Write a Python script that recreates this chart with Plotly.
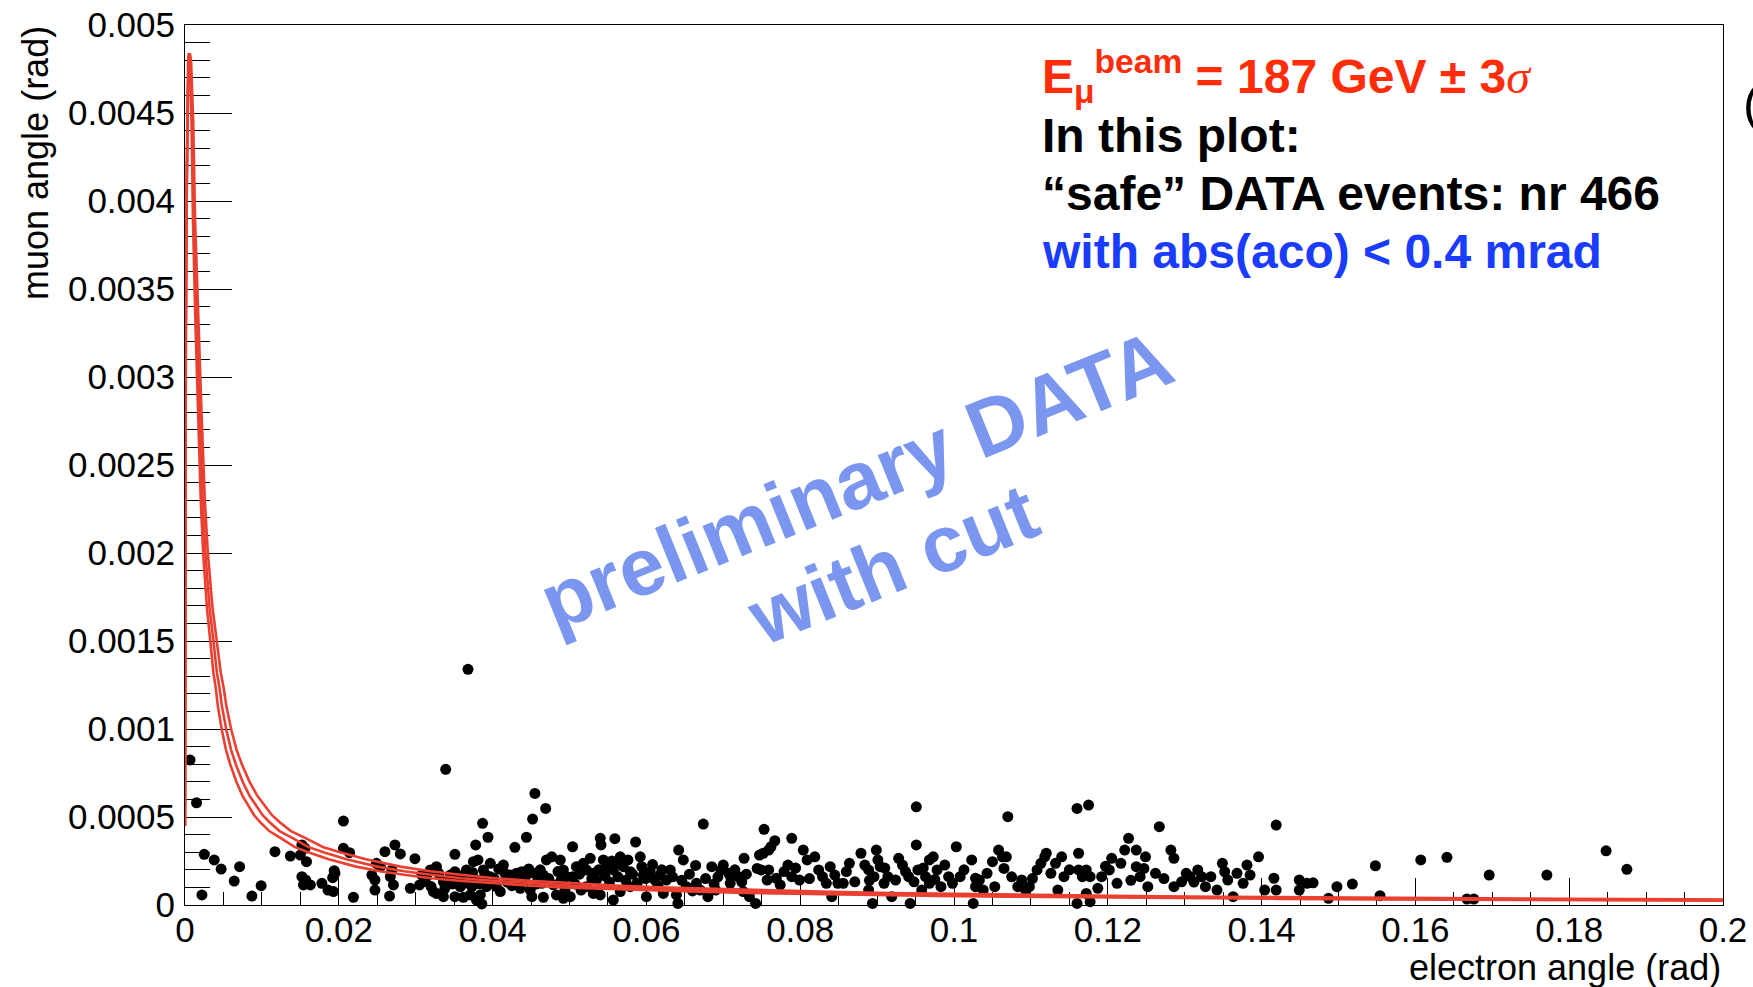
import plotly.graph_objects as go

# ---------------------------------------------------------------- data
# Selected events: electron and muon scattering angles, in mrad
electron_mrad = [
    0.65, 1.5, 2.2, 2.5, 3.8, 4.7, 6.4, 7.1, 8.7, 9.9, 11.7, 13.7, 15.0, 15.2, 15.6, 15.8, 15.2, 15.4, 16.3, 15.7, 17.8, 18.6, 19.4, 19.2, 19.5, 19.3,
    20.6, 20.6, 21.4, 21.9, 24.3, 24.7, 24.7, 24.9, 25.4, 26.0, 26.6, 26.7, 26.9, 27.1, 27.3, 28.0, 29.3, 29.9, 30.5,
    31.4, 31.9, 32.3, 32.7, 32.7, 33.6, 33.6, 33.8, 33.9, 34.5, 35.1, 35.1, 35.1, 35.8, 36.2, 36.2, 36.2, 36.6, 36.8, 37.1, 37.3, 37.5, 37.8, 37.9, 37.9, 38.1, 38.4, 38.6, 38.7, 38.8, 39.2, 39.4, 39.7, 39.7,
    40.5, 41.0, 41.4, 41.6, 42.3, 42.9, 43.1, 43.8, 44.4, 44.4, 44.9, 45.1, 45.2, 45.5, 45.5, 45.9, 46.4, 46.6, 46.6, 46.9, 47.0, 47.7, 48.3, 48.8, 49.2, 49.2, 49.2, 49.4, 49.6,
    50.1, 50.4, 50.9, 51.8, 52.2, 52.2, 52.7, 53.1, 53.1, 53.5, 54.0, 54.1, 54.0, 54.4, 54.8, 55.7, 55.7, 55.9, 56.1, 56.6, 56.6, 57.0, 57.6, 57.9, 57.9, 58.6, 59.2, 59.4, 59.6,
    60.0, 60.5, 61.1, 61.8, 62.2, 62.6, 63.1, 63.9, 64.1, 64.2, 64.8, 65.2, 66.4, 66.5,
    67.0, 67.4, 68.0, 68.5, 69.0, 69.7, 70.0, 70.7, 70.9, 71.0, 72.0, 72.4, 72.6, 72.7, 73.4, 74.2, 74.4, 74.7, 74.9, 75.2, 75.3, 75.7, 75.9, 75.9, 76.2,
    76.7, 76.9, 77.4, 78.4, 78.9, 78.9, 79.9, 80.4, 80.9, 81.9, 82.4, 82.9, 83.4, 83.9, 84.1, 84.9, 85.6, 86.4, 87.1, 87.9, 88.4, 88.9, 88.9, 89.4, 89.6, 89.9,
    90.1, 90.4, 90.9, 91.4, 91.9, 92.4, 92.8, 93.3, 94.1, 94.3, 94.8, 95.1, 95.1, 95.3, 95.8, 96.3, 96.8, 96.8, 97.3, 97.8, 98.3, 98.8, 99.3, 99.8, 100.3, 100.8,
    102.3, 102.5, 102.8, 102.8, 103.3, 103.8, 105.0, 105.3, 105.8, 106.3, 106.5, 106.8, 107.0, 108.3, 108.8, 109.3, 109.8, 110.8, 111.3, 111.8, 112.0, 113.2, 113.5, 114.0, 114.3,
    116.0, 116.0, 116.2, 116.2, 116.7, 117.2, 117.2, 117.5, 117.7, 117.7, 118.7, 119.2, 120.2, 120.5, 121.2, 121.7, 122.2, 122.7, 123.7, 123.7, 124.2, 124.7, 124.9, 125.2, 126.2,
    126.7, 128.2, 128.6, 128.6, 129.6, 130.2, 130.7, 131.7, 132.2, 132.7, 133.4, 134.2, 134.9, 135.2, 135.6, 136.3, 137.6, 138.1, 138.5, 139.6, 140.4, 141.6, 141.9, 141.9, 144.9, 144.9,
    145.9, 146.7, 148.7, 149.8, 151.8, 154.8, 155.4, 160.7, 164.1, 166.7, 167.6, 169.6, 177.1, 184.8, 187.5,
    # events inside the densest, overlapping part of the band
    30.8, 31.2, 32.0, 33.0, 34.2, 34.8, 35.5, 36.9, 37.4, 38.3, 39.0, 39.9,
    40.2, 40.8, 41.9, 42.5, 43.4, 43.6, 44.1, 44.7, 45.7, 46.2, 47.3, 47.9, 48.5, 48.9,
    50.4, 50.7, 51.3, 51.5, 52.9, 53.8, 54.6, 55.2, 55.5, 56.3, 57.3, 58.2, 58.8, 59.9,
    60.8, 61.5, 62.0, 63.4, 64.6, 65.6, 66.0, 67.7, 68.8, 69.3, 71.5, 73.0,
    77.9, 79.4, 81.2, 84.5, 86.0, 89.0, 91.0, 93.7, 96.0, 97.5, 101.3, 104.3, 107.5, 110.2,
    112.6, 115.0, 119.7, 123.0, 127.3, 131.2, 136.8,
]
muon_mrad = [
    0.824, 0.581, 0.057, 0.288, 0.256, 0.204, 0.136, 0.218, 0.051, 0.110, 0.303, 0.278, 0.284, 0.341, 0.322, 0.246, 0.161, 0.114, 0.114, 0.142, 0.123, 0.085, 0.195, 0.155, 0.180, 0.076,
    0.477, 0.322, 0.297, 0.044, 0.170, 0.142, 0.085, 0.237, 0.218, 0.303, 0.051, 0.161, 0.199, 0.114, 0.341, 0.290, 0.095, 0.263, 0.114,
    0.161, 0.199, 0.076, 0.218, 0.066, 0.132, 0.047, 0.095, 0.771, 0.170, 0.288, 0.189, 0.047, 0.104, 0.170, 0.123, 0.044, 0.199, 1.339, 0.057, 0.104, 0.246, 0.341, 0.142, 0.028, 0.256, 0.057, 0.006, 0.464, 0.199, 0.104, 0.385, 0.237, 0.161,
    0.104, 0.076, 0.227, 0.180, 0.170, 0.328, 0.180, 0.189, 0.385, 0.170, 0.085, 0.047, 0.488, 0.634, 0.180, 0.152, 0.123, 0.170, 0.044, 0.549, 0.256, 0.274, 0.057, 0.256, 0.199, 0.123, 0.038, 0.085, 0.161,
    0.047, 0.331, 0.218, 0.237, 0.199, 0.104, 0.265, 0.180, 0.066, 0.142, 0.379, 0.341, 0.057, 0.256, 0.218, 0.199, 0.028, 0.377, 0.237, 0.274, 0.076, 0.218, 0.256, 0.189, 0.104, 0.358, 0.274, 0.218, 0.170,
    0.047, 0.189, 0.142, 0.170, 0.066, 0.142, 0.199, 0.057, 0.009, 0.312, 0.256, 0.104, 0.225, 0.123,
    0.085, 0.460, 0.047, 0.218, 0.085, 0.199, 0.227, 0.180, 0.123, 0.152, 0.161, 0.132, 0.076, 0.265, 0.047, 0.009, 0.208, 0.284, 0.199, 0.294, 0.430, 0.142, 0.312, 0.199, 0.331,
    0.365, 0.152, 0.114, 0.227, 0.379, 0.161, 0.142, 0.312, 0.256, 0.274, 0.199, 0.161, 0.123, 0.218, 0.047, 0.123, 0.123, 0.237, 0.132, 0.294, 0.227, 0.199, 0.085, 0.009, 0.161, 0.312,
    0.256, 0.218, 0.123, 0.161, 0.047, 0.142, 0.265, 0.227, 0.161, 0.009, 0.132, 0.558, 0.341, 0.199, 0.085, 0.161, 0.123, 0.256, 0.274, 0.199, 0.104, 0.227, 0.161, 0.123, 0.331, 0.161,
    0.256, 0.009, 0.152, 0.104, 0.142, 0.085, 0.246, 0.104, 0.312, 0.274, 0.208, 0.274, 0.502, 0.104, 0.142, 0.085, 0.104, 0.199, 0.237, 0.274, 0.294, 0.237, 0.085, 0.274, 0.161,
    0.549, 0.009, 0.294, 0.199, 0.161, 0.199, 0.066, 0.568, 0.161, 0.019, 0.095, 0.161, 0.199, 0.265, 0.123, 0.237, 0.312, 0.379, 0.312, 0.218, 0.161, 0.208, 0.274, 0.104, 0.180,
    0.445, 0.312, 0.265, 0.104, 0.132, 0.180, 0.161, 0.199, 0.161, 0.104, 0.161, 0.085, 0.237, 0.189, 0.142, 0.047, 0.123, 0.227, 0.170, 0.274, 0.085, 0.152, 0.085, 0.454, 0.142, 0.085,
    0.123, 0.126, 0.038, 0.104, 0.119, 0.223, 0.053, 0.256, 0.271, 0.034, 0.034, 0.170, 0.170, 0.308, 0.203,
    0.170, 0.135, 0.105, 0.180, 0.140, 0.120, 0.150, 0.160, 0.185, 0.120, 0.175, 0.135,
    0.150, 0.205, 0.130, 0.110, 0.150, 0.095, 0.135, 0.205, 0.120, 0.200, 0.150, 0.115, 0.190, 0.140,
    0.160, 0.120, 0.175, 0.085, 0.150, 0.200, 0.165, 0.130, 0.250, 0.160, 0.140, 0.175, 0.125, 0.150,
    0.230, 0.110, 0.200, 0.160, 0.140, 0.175, 0.080, 0.150, 0.120, 0.160, 0.200, 0.175,
    0.190, 0.210, 0.150, 0.170, 0.190, 0.140, 0.210, 0.190, 0.210, 0.145, 0.200, 0.180, 0.160, 0.150,
    0.180, 0.200, 0.220, 0.140, 0.150, 0.130, 0.180,
]
assert len(electron_mrad) == len(muon_mrad)

# Elastic-scattering correlation curves (rad): nominal beam energy and the +-3 sigma edges
central_e = [0.0, 0.00005, 0.0001, 0.0002, 0.0003, 0.00045, 0.00056, 0.0007, 0.00095, 0.00117, 0.00152, 0.00195,
             0.0023, 0.00265, 0.0032, 0.0037, 0.00415, 0.0045, 0.0048, 0.0054, 0.006, 0.0066, 0.0075, 0.0084,
             0.0092, 0.0101, 0.011, 0.0123, 0.014, 0.016, 0.018, 0.021, 0.025, 0.0285, 0.032, 0.036, 0.04, 0.045,
             0.05, 0.055, 0.06, 0.067, 0.075, 0.082, 0.09, 0.1, 0.11, 0.12, 0.13, 0.14, 0.15, 0.16, 0.175, 0.19, 0.2]
central_mu = [0.00045, 0.0025, 0.0032, 0.0040, 0.0045, 0.0048, 0.00484, 0.0048, 0.00446, 0.00389, 0.00332, 0.00276,
              0.0023, 0.0020, 0.00169, 0.0015, 0.00132, 0.00123, 0.00113, 0.00099, 0.00088, 0.0008, 0.0007, 0.00062,
              0.00057, 0.00051, 0.00047, 0.00042, 0.00038, 0.00033, 0.0003, 0.00026, 0.000218, 0.000192, 0.000172,
              0.000152, 0.000138, 0.000123, 0.000111, 0.0001, 0.000093, 0.000083, 0.000075, 0.000068, 0.000062,
              0.000056, 0.000051, 0.000047, 0.000043, 0.00004, 0.000037, 0.000035, 0.000032, 0.00003, 0.000028]
upper_e = [0.0, 0.000056, 0.000112, 0.000224, 0.000336, 0.000504, 0.000627, 0.000784, 0.001064, 0.00131, 0.0017, 0.00218,
           0.00258, 0.00297, 0.00358, 0.00414, 0.00465, 0.00504, 0.00538, 0.00605, 0.00672, 0.00739, 0.0084, 0.00941,
           0.0103, 0.01131, 0.01232, 0.01378, 0.01568, 0.01792, 0.02016, 0.02352, 0.028, 0.03192, 0.03584, 0.04032,
           0.0448, 0.0504, 0.056, 0.0616, 0.0672, 0.07504, 0.084, 0.09184, 0.1008, 0.112, 0.1232, 0.1344, 0.1456,
           0.1568, 0.168, 0.1792, 0.196, 0.2128, 0.224]
upper_mu = central_mu
lower_e = [0.0, 0.0000445, 0.000089, 0.000178, 0.000267, 0.0004, 0.000498, 0.000623, 0.000846, 0.00104, 0.00135, 0.00174,
           0.00205, 0.00236, 0.00285, 0.00329, 0.00369, 0.00401, 0.00427, 0.00481, 0.00534, 0.00587, 0.00668, 0.00748,
           0.00819, 0.00899, 0.00979, 0.01095, 0.01246, 0.01424, 0.01602, 0.01869, 0.02225, 0.02537, 0.02848, 0.03204,
           0.0356, 0.04005, 0.0445, 0.04895, 0.0534, 0.05963, 0.06675, 0.07298, 0.0801, 0.089, 0.0979, 0.1068, 0.1157,
           0.1246, 0.1335, 0.1424, 0.15575, 0.1691, 0.178, 0.2]
lower_mu = central_mu + [0.000025]

# Axis ticks
x_tickvals = [0, 0.02, 0.04, 0.06, 0.08, 0.1, 0.12, 0.14, 0.16, 0.18, 0.2]
x_ticktext = ["0", "0.02", "0.04", "0.06", "0.08", "0.1", "0.12", "0.14", "0.16", "0.18", "0.2"]
y_tickvals = [0, 0.0005, 0.001, 0.0015, 0.002, 0.0025, 0.003, 0.0035, 0.004, 0.0045, 0.005]
y_ticktext = ["0", "0.0005", "0.001", "0.0015", "0.002", "0.0025", "0.003", "0.0035", "0.004", "0.0045", "0.005"]

# ---------------------------------------------------------------- layout helpers
W, H = 1753, 987
PL, PR, PT, PB = 185, 1723, 25, 905


def px_x(px):
    return (px - PL) / (PR - PL)


def px_y(py):
    return (PB - py) / (PB - PT)


FONT = "Liberation Sans, Arial, Helvetica, sans-serif"
RED = "rgb(234,64,50)"
WATERMARK = "rgb(122,150,238)"

fig = go.Figure()

fig.add_trace(go.Scatter(
    x=[v / 1000 for v in electron_mrad], y=[v / 1000 for v in muon_mrad],
    mode="markers", marker=dict(symbol="circle", size=11, color="black", line=dict(width=0)),
    cliponaxis=False, hoverinfo="skip",
))
for ex, my in ((upper_e, upper_mu), (central_e, central_mu), (lower_e, lower_mu)):
    fig.add_trace(go.Scatter(x=ex, y=my, mode="lines", line=dict(color=RED, width=2.6), hoverinfo="skip"))

axis_common = dict(
    showgrid=False, zeroline=False, showline=True, linecolor="black", linewidth=1, mirror=True,
    ticks="inside", tickcolor="black", tickwidth=1, layer="below traces", automargin=False,
    tickfont=dict(family=FONT, size=35, color="black"), tickmode="array",
)
fig.update_xaxes(
    range=[0, 0.2], tickvals=x_tickvals, ticktext=x_ticktext, ticklen=27, ticklabelstandoff=-6,
    minor=dict(ticks="inside", tick0=0, dtick=0.005, ticklen=13, tickcolor="black", tickwidth=1, showgrid=False),
    **axis_common,
)
fig.update_yaxes(
    range=[0, 0.005], tickvals=y_tickvals, ticktext=y_ticktext, ticklen=47, ticklabelstandoff=2,
    minor=dict(ticks="inside", tick0=0, dtick=0.0001, ticklen=25, tickcolor="black", tickwidth=1, showgrid=False),
    **axis_common,
)

annotations = [
    dict(text="muon angle (rad)", x=px_x(36), y=px_y(24), xanchor="center", yanchor="top", textangle=-90,
         font=dict(family=FONT, size=36, color="black")),
    dict(text="electron angle (rad)", x=px_x(1723), y=px_y(967), xanchor="right", yanchor="middle",
         font=dict(family=FONT, size=36, color="black")),
    dict(text="<b>E<sub>μ</sub><sup>beam</sup> = 187 GeV ± 3</b><span style=\"font-family:'Liberation Serif'\"><i>σ</i></span>",
         x=px_x(1040), y=px_y(76), xanchor="left", yanchor="middle",
         font=dict(family=FONT, size=48, color="rgb(255,45,10)")),
    dict(text="<b>In this plot:</b>", x=px_x(1040), y=px_y(135), xanchor="left", yanchor="middle",
         font=dict(family=FONT, size=48, color="black")),
    dict(text="<b>“safe” DATA events: nr 466</b>", x=px_x(1040), y=px_y(194), xanchor="left", yanchor="middle",
         font=dict(family=FONT, size=48, color="black")),
    dict(text="<b>with abs(aco) &lt; 0.4 mrad</b>", x=px_x(1040), y=px_y(252), xanchor="left", yanchor="middle",
         font=dict(family=FONT, size=48, color="rgb(25,60,255)")),
    dict(text="(", x=px_x(1741), y=px_y(104), xanchor="left", yanchor="middle",
         font=dict(family=FONT, size=50, color="black")),
    dict(text="<b>preliminary DATA</b>", x=px_x(856), y=px_y(480), xanchor="center", yanchor="middle", textangle=-22,
         font=dict(family=FONT, size=81, color=WATERMARK)),
    dict(text="<b>with cut</b>", x=px_x(892), y=px_y(564), xanchor="center", yanchor="middle", textangle=-22,
         font=dict(family=FONT, size=80, color=WATERMARK)),
]
for a in annotations:
    a.update(xref="paper", yref="paper", showarrow=False)

fig.update_layout(
    width=W, height=H, margin=dict(l=PL, r=W - PR, t=PT, b=H - PB, pad=0, autoexpand=False),
    paper_bgcolor="white", plot_bgcolor="white", showlegend=False,
    annotations=annotations,
)

fig.write_html("out.html")
